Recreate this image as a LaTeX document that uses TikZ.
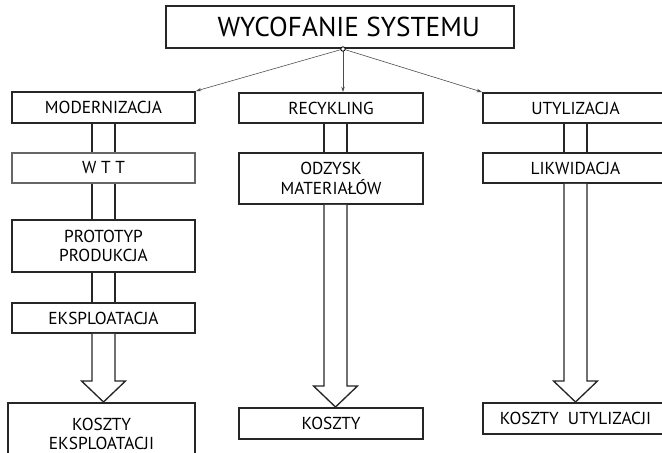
\documentclass[tikz,border=0pt]{standalone}
\usepackage{fontspec}
\setmainfont{PT Sans}
\usetikzlibrary{arrows.meta,calc}
\tikzset{
  blok/.style={draw=black!85,line width=1.5pt,inner sep=0pt,align=center,
    minimum width=#1*0.75pt,font=\fontsize{13}{14.5}\selectfont},
  blok/.default=183,
  strzalka/.style={draw=black!70,line width=.45pt,-{Stealth[length=4pt,width=2.6pt]}},
  trzon/.style={draw=black!85,line width=1pt}
}
\begin{document}
\begin{tikzpicture}[x=0.75pt,y=-0.75pt]
\clip (0,0) rectangle (662,453);
\node[blok=348,minimum height=31.5pt,font=\fontsize{20.5}{24}\selectfont] (tytul) at (340,27) {\hspace*{13pt}WYCOFANIE SYSTEMU};
\node[blok,minimum height=23.25pt] (mod) at (103.5,107.5) {MODERNIZACJA};
\node[blok,draw=black!60,line width=1pt,minimum height=22.5pt] (wtt) at (103.5,168) {W T T};
\node[blok,minimum height=39pt] (proto) at (103.5,246) {PROTOTYP\\PRODUKCJA};
\node[blok,minimum height=22.5pt] (eks) at (103.5,318) {EKSPLOATACJA};
\node[blok=187,minimum height=49.5pt] (kosE) at (101.5,436) {\raisebox{6pt}{\begin{tabular}{@{}c@{}}KOSZTY\\EKSPLOATACJI\end{tabular}}};
\node[blok=184,minimum height=22.5pt] (rec) at (331,108) {RECYKLING};
\node[blok=184,minimum height=38.25pt] (odz) at (331,178.5) {ODZYSK\\MATERIAŁÓW};
\node[blok=184,minimum height=23.25pt] (kosR) at (331,423.5) {KOSZTY};
\node[blok=185,minimum height=22.5pt] (uty) at (575.5,108) {UTYLIZACJA};
\node[blok=185,minimum height=22.5pt] (lik) at (575.5,168) {LIKWIDACJA};
\node[blok=185,minimum height=23.25pt] (kosU) at (575.5,418.5) {KOSZTY\ \ UTYLIZACJI};
\coordinate (src) at ($(tytul.south)+(3,0)$);
\draw[strzalka] (src) -- (mod.north east);
\draw[strzalka] (src) -- (src |- rec.north);
\draw[strzalka] (src) -- (uty.north west);
\draw[line width=.6pt,fill=white] (src) circle (2.2);
\foreach \a/\b/\d in {mod/wtt/0,wtt/proto/0,proto/eks/0,rec/odz/4.5,uty/lik/0}{
  \draw[trzon] ($(\a.south)+(\d-11.5,0)$) -- ($(\b.north)+(\d-11.5,0)$);
  \draw[trzon] ($(\a.south)+(\d+11.5,0)$) -- ($(\b.north)+(\d+11.5,0)$);
}
\foreach \a/\b/\d in {eks/kosE/0,odz/kosR/4.5,lik/kosU/0}{
  \draw[trzon,fill=white,line join=miter]
    ($(\a.south)+(\d-11.5,0)$) -- ($(\a.south |- \b.north)+(\d-11.5,-21)$) -- ($(\a.south |- \b.north)+(\d-22,-21)$)
    -- ($(\a.south |- \b.north)+(\d,0)$) -- ($(\a.south |- \b.north)+(\d+22,-21)$) -- ($(\a.south |- \b.north)+(\d+11.5,-21)$)
    -- ($(\a.south)+(\d+11.5,0)$);
}
\end{tikzpicture}
\end{document}
